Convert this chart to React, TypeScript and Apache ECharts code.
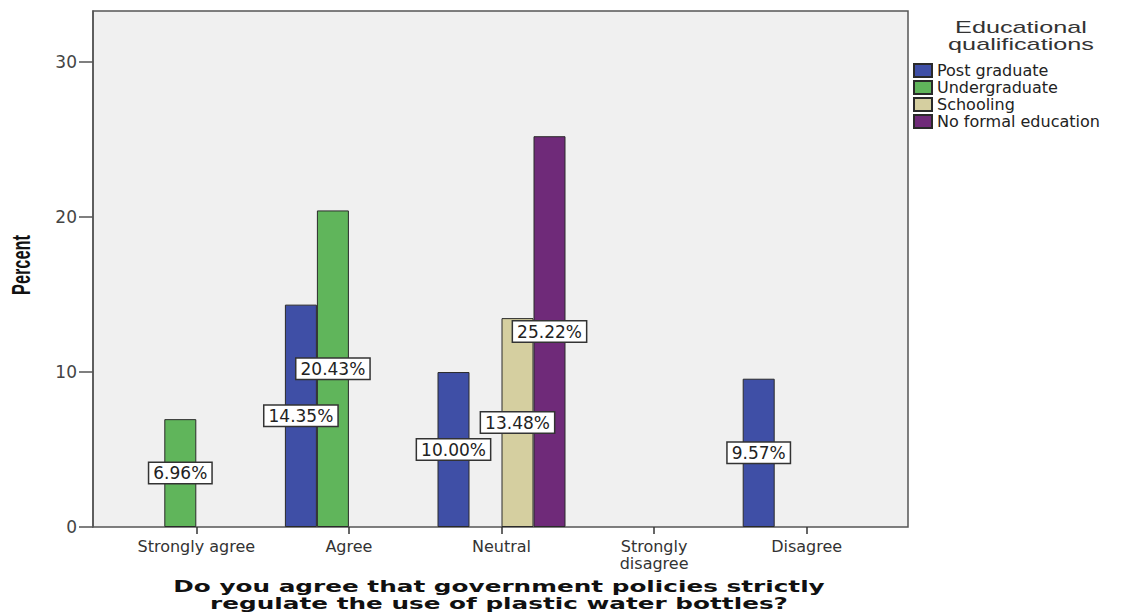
import React, { useEffect, useRef } from "react";
import * as echarts from "echarts";

const categories = ["Strongly agree", "Agree", "Neutral", "Strongly\ndisagree", "Disagree"];
const seriesNames = ["Post graduate", "Undergraduate", "Schooling", "No formal education"];
const postGraduate = [null, 14.35, 10.0, null, 9.57];
const undergraduate = [6.96, 20.43, null, null, null];
const schooling = [null, null, 13.48, null, null];
const noFormal = [null, null, 25.22, null, null];
const seriesValues = [postGraduate, undergraduate, schooling, noFormal];
const seriesColors = ["#3F4FA6", "#60B55B", "#D5CFA0", "#6F2A79"];
const yTicks = [0, 10, 20, 30];
const yMax = 33.3;
const xTitle = ["Do you agree that government policies strictly", "regulate the use of plastic water bottles?"];
const yTitle = "Percent";
const legendTitle = ["Educational", "qualifications"];

function textWidth(text: string, font: string): number {
  const ctx = document.createElement("canvas").getContext("2d")!;
  ctx.font = font;
  return ctx.measureText(text).width;
}

export default function App() {
  const ref = useRef<HTMLDivElement>(null);
  useEffect(() => {
    if (!ref.current) return;
    const chart = echarts.init(ref.current, null, { renderer: "svg" });

    const xFont = 'bold 15px "DejaVu Sans"';
    const xScale = 652 / textWidth(xTitle[0], xFont);
    const yFont = 'bold 17px "Liberation Sans"';
    const yScale = 60 / textWidth(yTitle, yFont);
    const lFont = '16px "Liberation Sans"';
    const lScale = 146 / textWidth(legendTitle[1], lFont);

    const option: any = {
      animation: false,
      backgroundColor: "#ffffff",
      grid: { left: 120, right: 247, top: 11, bottom: 87, containLabel: false },
      xAxis: {
        type: "category",
        data: categories,
        axisLine: { show: false },
        axisTick: { show: true, alignWithLabel: true, length: 7, lineStyle: { color: "#333", width: 1.5 } },
        axisLabel: {
          color: "#333",
          fontSize: 16,
          fontFamily: "DejaVu Sans",
          margin: 11,
          lineHeight: 17,
          interval: 0,
        },
        splitLine: { show: false },
      },
      yAxis: {
        type: "value",
        min: 0,
        max: yMax,
        interval: 10,
        offset: 27,
        axisLine: { show: true, lineStyle: { color: "#555", width: 1.5 } },
        axisTick: { show: true, length: 14, customValues: yTicks, lineStyle: { color: "#555", width: 1.5 } },
        axisLabel: {
          color: "#444",
          fontSize: 17,
          fontFamily: "DejaVu Sans",
          margin: 16,
          customValues: yTicks,
        },
        splitLine: { show: false },
      },
      legend: {
        orient: "vertical",
        left: 913,
        top: 62,
        padding: 0,
        itemWidth: 18,
        itemHeight: 13,
        itemGap: 0,
        icon: "rect",
        data: seriesNames,
        textStyle: { color: "#222", fontSize: 16, fontFamily: "DejaVu Sans", lineHeight: 17 },
      },
      graphic: [
        {
          type: "rect",
          z: -10,
          shape: { x: 93, y: 11, width: 815, height: 516 },
          style: { fill: "#F0F0F0", stroke: "#555", lineWidth: 1.5 },
        },
        {
          type: "text",
          x: 1021,
          y: 27,
          scaleX: lScale,
          style: { text: legendTitle[0], font: lFont, fill: "#333", textAlign: "center", textVerticalAlign: "middle" },
        },
        {
          type: "text",
          x: 1021,
          y: 44,
          scaleX: lScale,
          style: { text: legendTitle[1], font: lFont, fill: "#333", textAlign: "center", textVerticalAlign: "middle" },
        },
        {
          type: "text",
          x: 499,
          y: 587,
          scaleX: xScale,
          style: { text: xTitle[0], font: xFont, fill: "#111", textAlign: "center", textVerticalAlign: "middle" },
        },
        {
          type: "text",
          x: 499,
          y: 604,
          scaleX: xScale,
          style: { text: xTitle[1], font: xFont, fill: "#111", textAlign: "center", textVerticalAlign: "middle" },
        },
        {
          type: "text",
          x: 21,
          y: 265,
          rotation: Math.PI / 2,
          scaleX: yScale,
          scaleY: 1.55,
          style: { text: yTitle, font: yFont, fill: "#111", textAlign: "center", textVerticalAlign: "middle" },
        },
      ],
      series: seriesNames.map((name, i) => ({
        name,
        type: "bar",
        data: seriesValues[i],
        barWidth: 32,
        barGap: "0%",
        itemStyle: { color: seriesColors[i], borderColor: "#2a2a2a", borderWidth: 1 },
        label: {
          show: true,
          position: "inside",
          formatter: (p: any) => (p.value == null ? "" : Number(p.value).toFixed(2) + "%"),
          color: "#222",
          fontSize: 17,
          fontFamily: "DejaVu Sans",
          lineHeight: 17,
          backgroundColor: "#ffffff",
          borderColor: "#333",
          borderWidth: 1.5,
          padding: [2, 4, 1, 4],
        },
      })),
    };
    chart.setOption(option);
    return () => chart.dispose();
  }, []);
  return <div ref={ref} style={{ position: "fixed", left: 0, top: 0, width: 1130, height: 614 }} />;
}
